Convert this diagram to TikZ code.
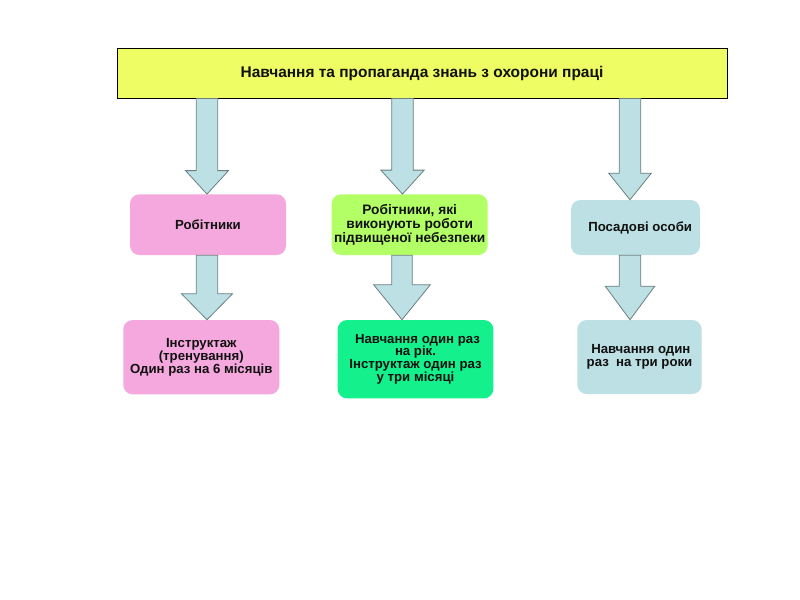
\documentclass[tikz,border=0pt]{standalone}
\usepackage{fontspec}
\setmainfont{Liberation Sans}
\usetikzlibrary{calc}
\definecolor{titleyellow}{HTML}{EEFD64}
\definecolor{boxpink}{HTML}{F4A8DE}
\definecolor{boxlime}{HTML}{B3FF66}
\definecolor{boxgreen}{HTML}{14F08C}
\definecolor{boxblue}{HTML}{BCE0E4}
\definecolor{arrowedge}{HTML}{6B7F80}
\definecolor{txt}{HTML}{111111}
\tikzset{
  titlebox/.style={draw=black, line width=0.6pt, fill=titleyellow, minimum width=457.5pt, minimum height=37.5pt, inner sep=0pt, font=\bfseries\fontsize{11.6}{13}\selectfont, text=txt},
  rbox/.style={rounded corners=7pt, inner sep=0pt, align=center, font=\bfseries\fontsize{9.9}{9.6}\selectfont, text=txt},
  bigtext/.style={font=\bfseries\fontsize{10.3}{10.3}\selectfont},
  barrow/.style={draw=arrowedge, line width=0.6pt, fill=boxblue, line join=miter}
}
% #1 centre x (px), #2 from node, #3 to node, #4 half shaft (px), #5 half head (px), #6 head length (px)
\newcommand{\blockarrow}[6]{%
  \draw[barrow] let \p1=(#2.south), \p2=(#3.north) in
    ({(#1-#4)*0.75pt},\y1) -- ({(#1-#4)*0.75pt},{\y2+#6*0.75pt}) --
    ({(#1-#5)*0.75pt},{\y2+#6*0.75pt}) -- ({#1*0.75pt},\y2) --
    ({(#1+#5)*0.75pt},{\y2+#6*0.75pt}) -- ({(#1+#4)*0.75pt},{\y2+#6*0.75pt}) --
    ({(#1+#4)*0.75pt},\y1) -- cycle;}
\begin{document}
\begin{tikzpicture}[x=0.75pt,y=-0.75pt]
\useasboundingbox (0,0) rectangle (800,600);
\node[titlebox] (top) at (422,73) {Навчання та пропаганда знань з охорони праці};
% first row
\node[rbox, fill=boxpink, minimum width=117pt, minimum height=45.5pt] (r1) at (208,224.7) {Робітники};
\node[rbox, bigtext, fill=boxlime, minimum width=117pt, minimum height=45.5pt] (r2) at (409.7,224.7) {Робітники, які\\виконують роботи\\підвищеної небезпеки};
\node[rbox, fill=boxblue, minimum width=96.75pt, minimum height=41.25pt] (r3) at (635.5,227.5) {\hspace*{7pt}Посадові особи};
% second row
\node[rbox, fill=boxpink, minimum width=117pt, minimum height=55.75pt] (d1) at (201.3,357.2) {Інструктаж\\(тренування)\\Один раз на 6 місяців};
\node[rbox, fill=boxgreen, minimum width=116.75pt, minimum height=58.75pt] (d2) at (415.5,359.2) {\hspace*{3pt}Навчання один раз\\на рік.\\Інструктаж один раз\\у три місяці};
\node[rbox, fill=boxblue, minimum width=93.25pt, minimum height=55.5pt] (d3) at (639.5,357) {\hspace*{2pt}Навчання один\\раз\ \ на три роки};
% block arrows
\blockarrow{207}{top}{r1}{10.7}{21.5}{23.5}
\blockarrow{402.5}{top}{r2}{10.8}{21.7}{24}
\blockarrow{630}{top}{r3}{10.8}{21.3}{26.5}
\blockarrow{207}{r1}{d1}{10.7}{25.5}{26}
\blockarrow{402}{r2}{d2}{10.3}{28.3}{35}
\blockarrow{630}{r3}{d3}{10.8}{24.7}{33.5}
\end{tikzpicture}
\end{document}
